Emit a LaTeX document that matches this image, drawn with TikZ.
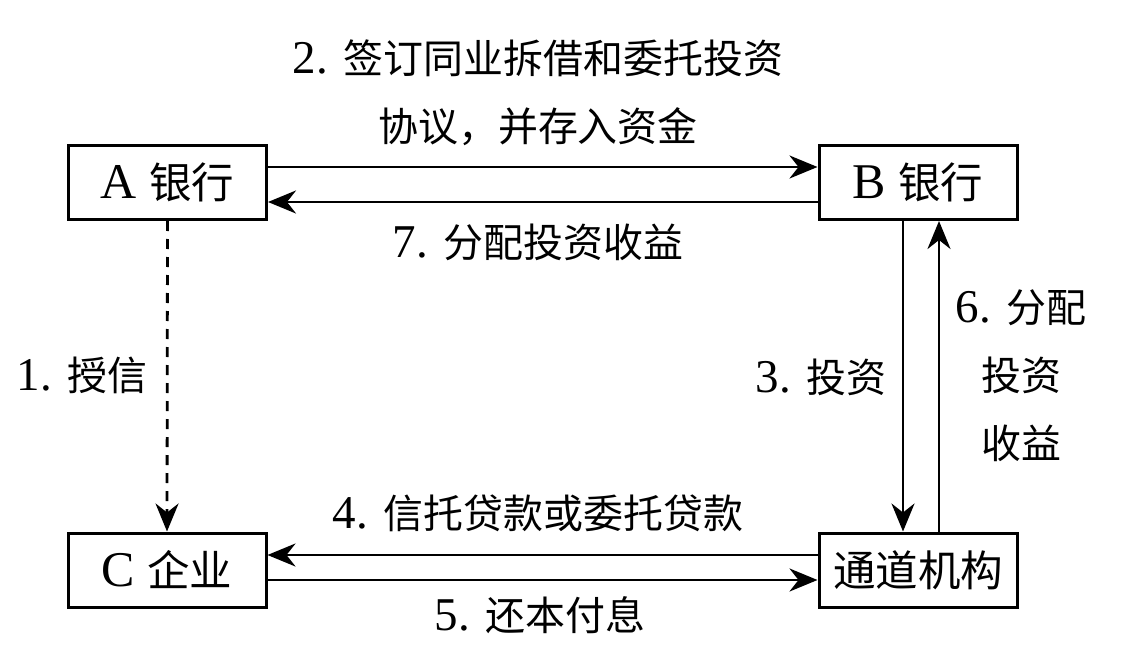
\documentclass[tikz,border=0pt]{standalone}
\usepackage{fontspec}
\setmainfont{Liberation Serif}
\newfontfamily\cjk[Scale=0.85]{Noto Sans CJK SC}
\usetikzlibrary{arrows.meta}
\begin{document}
\begin{tikzpicture}[x=1pt,y=-1pt,
  box/.style={draw,line width=3pt,minimum width=198pt,minimum height=74pt,inner sep=0pt,font=\fontsize{50}{60}\selectfont},
  lbl/.style={inner sep=0pt,align=center,font=\fontsize{47}{68}\selectfont},
  arr/.style={line width=2.8pt,-{Stealth[length=28pt,width=23pt,inset=9pt]}},
  dsh/.style={dash pattern=on 10pt off 8pt}]
\useasboundingbox (0,0) rectangle (1136,666);
\node[box] (A) at (167.5,182.5) {A {\cjk 银行}};
\node[box] (B) at (918,182.5) {B {\cjk 银行}};
\node[box] (C) at (167,570) {C {\cjk 企业}};
\node[box] (D) at (918,570) {\cjk 通道机构};
\draw[arr] ([yshift=15.5pt]A.east) -- ([yshift=15.5pt]B.west);
\draw[arr] ([yshift=-19.5pt]B.west) -- ([yshift=-19.5pt]A.east);
\draw[arr,dsh] (A.south) -- (C.north);
\draw[arr] ([xshift=-15pt]B.south) -- ([xshift=-15pt]D.north);
\draw[arr] ([xshift=21pt]D.north) -- ([xshift=21pt]B.south);
\draw[arr] ([yshift=15pt]D.west) -- ([yshift=15pt]C.east);
\draw[arr] ([yshift=-10pt]C.east) -- ([yshift=-10pt]D.west);
\node[lbl] (l2) at (538,93) {2. {\cjk 签订同业拆借和委托投资}\\{\cjk 协议，并存入资金}};
\node[lbl] (l7) at (538,242) {7. {\cjk 分配投资收益}};
\node[lbl] (l1) at (82,375) {1. {\cjk 授信}};
\node[lbl] (l3) at (821,377) {3. {\cjk 投资}};
\node[lbl] (l6) at (1021,376) {6. {\cjk 分配}\\{\cjk 投资}\\{\cjk 收益}};
\node[lbl] (l4) at (538,513) {4. {\cjk 信托贷款或委托贷款}};
\node[lbl] (l5) at (540,615) {5. {\cjk 还本付息}};
\end{tikzpicture}
\end{document}
